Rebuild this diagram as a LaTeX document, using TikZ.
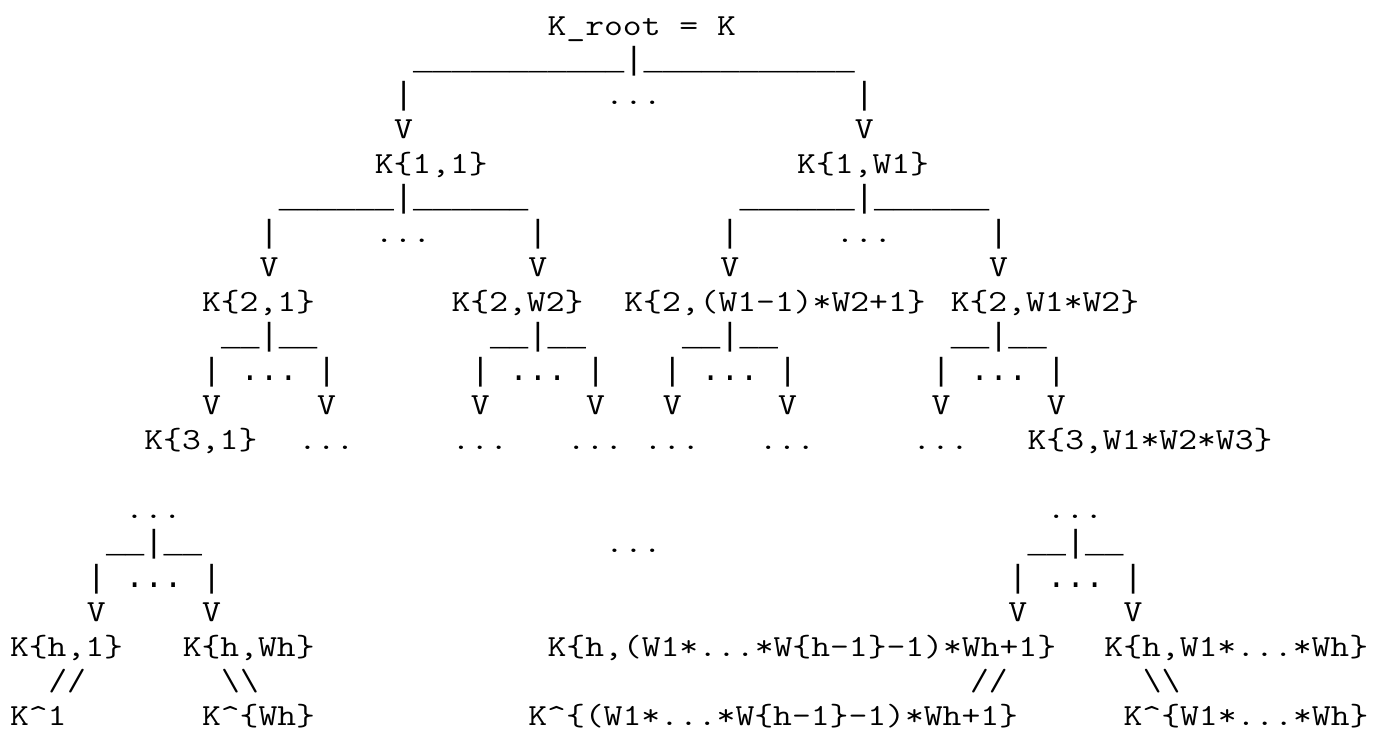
\documentclass[tikz,border=0pt]{standalone}
\usepackage{fontspec}
\newfontfamily\barfont{Liberation Mono}
% text on the character grid: row, column, text
\newcommand\asciiat[4][asc]{%
  \node[#1] (r#2c#3) at ({10+19.2*#3},{35+34.5*(#2-1)}) {#4};}

\begin{document}
\begin{tikzpicture}[x=0.75pt,y=-0.75pt,
  asc/.style={anchor=base west,inner sep=0pt,outer sep=0pt,xscale=1.1925,
    font=\fontsize{23pt}{26pt}\selectfont\ttfamily\frenchspacing},
  low/.style={anchor=base west,inner sep=0pt,outer sep=0pt,
    font=\fontsize{24pt}{26pt}\selectfont\barfont\frenchspacing}]
  \useasboundingbox (0,0) rectangle (1373,732);

  % root
  \asciiat{1}{28}{K\_root = K}
  \asciiat[low]{2}{21}{\_\_\_\_\_\_\_\_\_\_\_|\_\_\_\_\_\_\_\_\_\_\_}
  \asciiat[low]{3}{20}{|}
  \asciiat{3}{31}{...}
  \asciiat[low]{3}{44}{|}
  \asciiat{4}{20}{V}
  \asciiat{4}{44}{V}

  % level 1
  \asciiat{5}{19}{K\{1,1\}}
  \asciiat{5}{41}{K\{1,W1\}}
  \asciiat[low]{6}{14}{\_\_\_\_\_\_|\_\_\_\_\_\_}
  \asciiat[low]{6}{38}{\_\_\_\_\_\_|\_\_\_\_\_\_}
  \asciiat[low]{7}{13}{|}
  \asciiat{7}{19}{...}
  \asciiat[low]{7}{27}{|}
  \asciiat[low]{7}{37}{|}
  \asciiat{7}{43}{...}
  \asciiat[low]{7}{51}{|}
  \foreach \c in {13,27,37,51}
    {\asciiat{8}{\c}{V}}

  % level 2
  \asciiat{9}{10}{K\{2,1\}}
  \asciiat{9}{23}{K\{2,W2\}}
  \asciiat{9}{32}{K\{2,(W1-1)*W2+1\}}
  \asciiat{9}{49}{K\{2,W1*W2\}}
  \foreach \c in {11,25,35,49}
    {\asciiat[low]{10}{\c}{\_\_|\_\_}}
  \foreach \c in {10,24,34,48}
    {\asciiat[low]{11}{\c}{| ... |}}
  \foreach \c in {10,16,24,30,34,40,48,54}
    {\asciiat{12}{\c}{V}}

  % level 3
  \asciiat{13}{7}{K\{3,1\}}
  \foreach \c in {15,23,29,33,39,47}
    {\asciiat{13}{\c}{...}}
  \asciiat{13}{53}{K\{3,W1*W2*W3\}}

  % level h
  \asciiat{15}{6}{...}
  \asciiat{15}{54}{...}
  \asciiat[low]{16}{5}{\_\_|\_\_}
  \asciiat{16}{31}{...}
  \asciiat[low]{16}{53}{\_\_|\_\_}
  \asciiat[low]{17}{4}{| ... |}
  \asciiat[low]{17}{52}{| ... |}
  \foreach \c in {4,10,52,58}
    {\asciiat{18}{\c}{V}}
  \asciiat{19}{0}{K\{h,1\}}
  \asciiat{19}{9}{K\{h,Wh\}}
  \asciiat{19}{28}{K\{h,(W1*...*W\{h-1\}-1)*Wh+1\}}
  \asciiat{19}{57}{K\{h,W1*...*Wh\}}

  % leaf keys
  \asciiat{20}{2}{//}
  \asciiat{20}{11}{\textbackslash\textbackslash}
  \asciiat{20}{50}{//}
  \asciiat{20}{59}{\textbackslash\textbackslash}
  \asciiat{21}{0}{K\textasciicircum 1}
  \asciiat{21}{10}{K\textasciicircum\{Wh\}}
  \asciiat{21}{27}{K\textasciicircum\{(W1*...*W\{h-1\}-1)*Wh+1\}}
  \asciiat{21}{58}{K\textasciicircum\{W1*...*Wh\}}
\end{tikzpicture}
\end{document}
